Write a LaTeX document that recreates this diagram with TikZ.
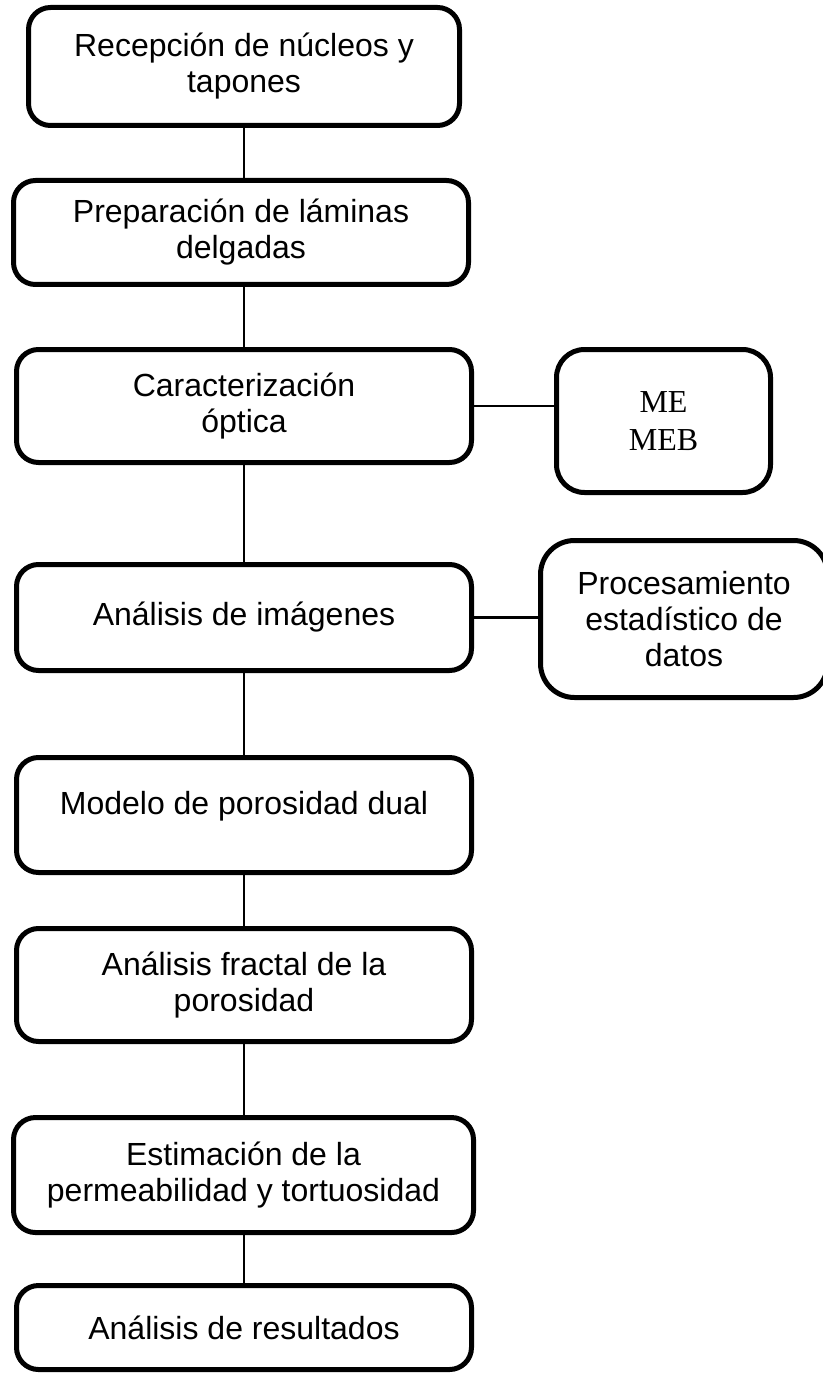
\documentclass[tikz,border=0pt]{standalone}
\usepackage{fontspec}
\setmainfont{Liberation Sans}
\newfontfamily\timesfont{Liberation Serif}
\begin{document}
\begin{tikzpicture}[x=0.5pt, y=-0.5pt,
    every node/.style={rectangle, draw, rounded corners=11pt, line width=2.5pt, align=center,
        inner sep=0pt, font=\fontsize{16}{18}\selectfont}]
    \useasboundingbox (0,0) rectangle (823,1374);
    \clip (0,0) rectangle (823,1374);

    % Columna principal
    \node (A) at (244,66.5) [minimum width=215.5pt, minimum height=59pt] {Recepción de núcleos y\\tapones};
    \node (B) at (241,232.5) [minimum width=227.5pt, minimum height=52pt] {Preparación de láminas\\delgadas};
    \node (C) at (244,406) [minimum width=227.5pt, minimum height=56.5pt] {Caracterización\\óptica};
    \node (D) at (244,617.5) [minimum width=227.5pt, minimum height=53pt] {Análisis de imágenes};
    \node (E) at (244,815) [minimum width=227.5pt, minimum height=57.5pt, text depth=12.5pt] {Modelo de porosidad dual};
    \node (F) at (244,985) [minimum width=227.5pt, minimum height=56.5pt] {Análisis fractal de la\\porosidad};
    \node (G) at (243.5,1175) [minimum width=230pt, minimum height=57.5pt] {Estimación de la\\permeabilidad y tortuosidad};
    \node (H) at (244,1327.5) [minimum width=227.5pt, minimum height=42pt] {Análisis de resultados};

    % Cajas laterales
    \node (I) at (663.5,421) [minimum width=107pt, minimum height=71.5pt, rounded corners=14pt, font=\timesfont\fontsize{16}{19}\selectfont] {ME\\MEB};
    \node (J) at (684,619) [minimum width=143.5pt, minimum height=78.5pt, rounded corners=17pt] {Procesamiento\\estadístico de\\datos};

    % Conexiones
    \draw[line width=1pt] (A.south) -- (A.south |- B.north);
    \draw[line width=1pt] (A.south |- B.south) -- (A.south |- C.north);
    \draw[line width=1pt] (A.south |- C.south) -- (A.south |- D.north);
    \draw[line width=1pt] (A.south |- D.south) -- (A.south |- E.north);
    \draw[line width=1pt] (A.south |- E.south) -- (A.south |- F.north);
    \draw[line width=1pt] (A.south |- F.south) -- (A.south |- G.north);
    \draw[line width=1pt] (A.south |- G.south) -- (A.south |- H.north);
    \draw[line width=1pt] (C.east) -- (C.east -| I.west);
    \draw[line width=1.5pt] (D.east) -- (D.east -| J.west);
\end{tikzpicture}
\end{document}
